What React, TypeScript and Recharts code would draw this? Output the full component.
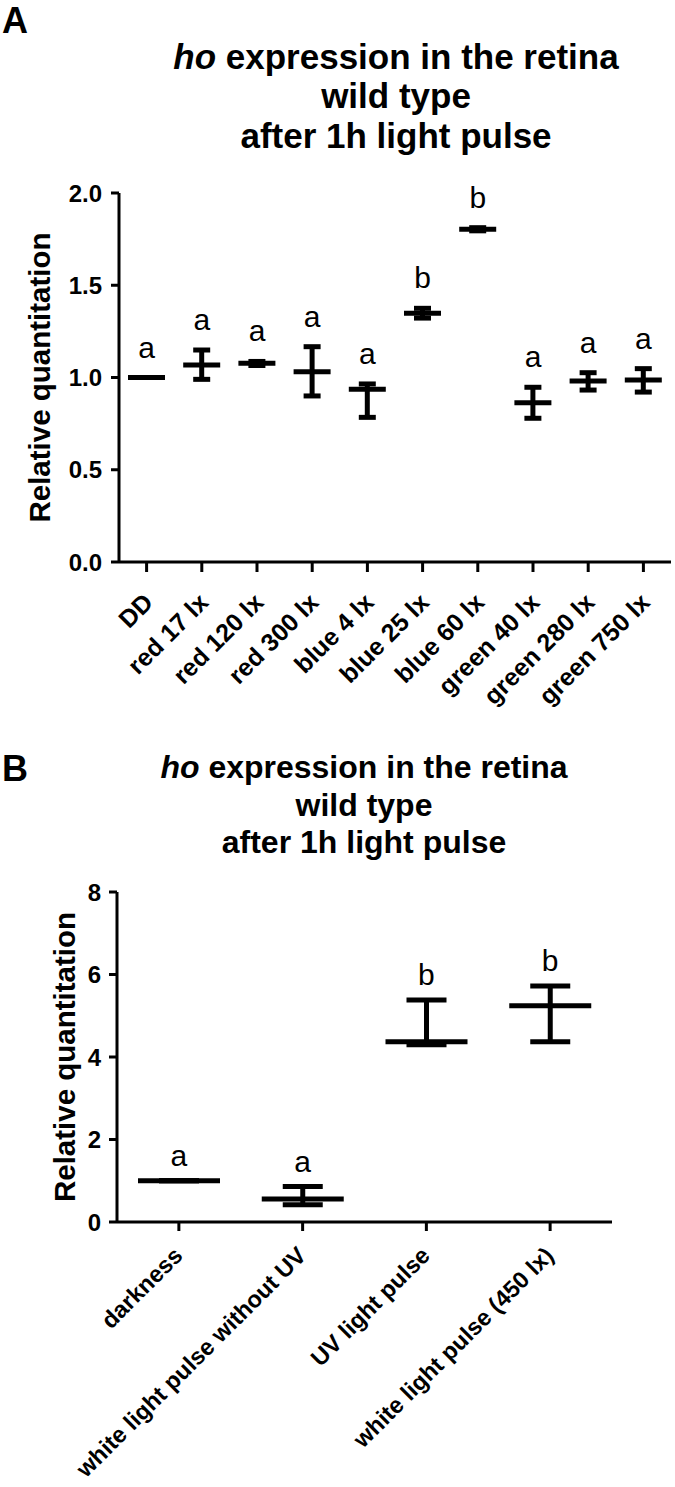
import React from 'react';
import { ComposedChart, Bar, Line, XAxis, YAxis, ErrorBar, LabelList } from 'recharts';

const FONT = '"Liberation Sans", Arial, Helvetica, sans-serif';

// Panel A: colour / intensity series
const groupsA = ['DD', 'red 17 lx', 'red 120 lx', 'red 300 lx', 'blue 4 lx', 'blue 25 lx', 'blue 60 lx', 'green 40 lx', 'green 280 lx', 'green 750 lx'];
const meansA = [1.0, 1.068, 1.077, 1.031, 0.936, 1.348, 1.803, 0.863, 0.981, 0.986];
const upperA = [1.0, 1.149, 1.087, 1.167, 0.965, 1.375, 1.812, 0.947, 1.026, 1.048];
const lowerA = [1.0, 0.99, 1.065, 0.9, 0.784, 1.322, 1.795, 0.779, 0.932, 0.921];
const lettersA = ['a', 'a', 'a', 'a', 'a', 'b', 'b', 'a', 'a', 'a'];
const ticksA = [0, 0.5, 1.0, 1.5, 2.0];

// Panel B: white / UV light
const groupsB = ['darkness', 'white light pulse without UV', 'UV light pulse', 'white light pulse (450 lx)'];
const meansB = [1.0, 0.56, 4.37, 5.24];
const upperB = [1.0, 0.86, 5.38, 5.72];
const lowerB = [1.0, 0.42, 4.3, 4.37];
const lettersB = ['a', 'a', 'b', 'b'];
const ticksB = [0, 2, 4, 6, 8];

const build = (groups: string[], means: number[], upper: number[], lower: number[], letters: string[]) =>
  groups.map((name, i) => ({
    name,
    mean: means[i],
    err: [means[i] - lower[i], upper[i] - means[i]],
    top: upper[i],
    letter: letters[i],
  }));

const dataA = build(groupsA, meansA, upperA, lowerA, lettersA);
const dataB = build(groupsB, meansB, upperB, lowerB, lettersB);

const MeanLine = (props: any) => {
  const { x, y, width } = props;
  return <line x1={x} x2={x + width} y1={y} y2={y} stroke="#000" strokeWidth={5} />;
};

const letterLabel = (gap: number) => (props: any) => {
  const { x, y, value } = props;
  return (
    <text x={x} y={y - gap} textAnchor="middle" fontSize={30} fontFamily={FONT} fill="#000">
      {value}
    </text>
  );
};

const slantTick = (fontSize: number, dx: number, dy: number) => (props: any) => {
  const { x, y, payload } = props;
  return (
    <g transform={`translate(${x + dx},${y + dy})`}>
      <text x={0} y={0} textAnchor="end" transform="rotate(-45)" fontSize={fontSize} fontWeight="bold" fontFamily={FONT} fill="#000">
        {payload.value}
      </text>
    </g>
  );
};

const yLabel = (cx: number) => (props: any) => {
  const vb = props.viewBox || {};
  const cy = vb.y + vb.height / 2;
  return (
    <text transform={`translate(${cx},${cy}) rotate(-90)`} textAnchor="middle" fontSize={29.5} fontWeight="bold" fontFamily={FONT} fill="#000">
      Relative quantitation
    </text>
  );
};

const tickStyle = { fontSize: 24, fontWeight: 'bold', fontFamily: FONT, fill: '#000' } as any;

export default function App() {
  return (
    <div style={{ position: 'absolute', left: 0, top: 0, width: 675, height: 1487, background: '#fff', fontFamily: FONT }}>
      <div style={{ position: 'absolute', left: 0, top: 0 }}>
        <ComposedChart width={675} height={720} data={dataA} margin={{ top: 193, right: 4, bottom: 0, left: 0 }}>
          <XAxis
            dataKey="name"
            interval={0}
            height={158}
            tick={slantTick(25, 8, 30)}
            tickSize={10}
            axisLine={{ stroke: '#000', strokeWidth: 3 }}
            tickLine={{ stroke: '#000', strokeWidth: 3 }}
          />
          <YAxis
            type="number"
            domain={[0, 2]}
            ticks={ticksA}
            width={119}
            tickFormatter={(v: number) => v.toFixed(1)}
            tick={tickStyle}
            tickSize={8}
            tickMargin={9}
            axisLine={{ stroke: '#000', strokeWidth: 3 }}
            tickLine={{ stroke: '#000', strokeWidth: 3 }}
            label={{ content: yLabel(50) }}
          />
          <Bar dataKey="mean" barSize={37} fill="none" shape={MeanLine} isAnimationActive={false}>
            <ErrorBar dataKey="err" width={8.5} stroke="#000" strokeWidth={5} direction="y" />
          </Bar>
          <Line dataKey="top" stroke="none" dot={false} activeDot={false} isAnimationActive={false}>
            <LabelList dataKey="letter" content={letterLabel(20)} />
          </Line>
        </ComposedChart>
      </div>

      <div style={{ position: 'absolute', left: 0, top: 700 }}>
        <ComposedChart width={675} height={787} data={dataB} margin={{ top: 192, right: 63, bottom: 0, left: 0 }}>
          <XAxis
            dataKey="name"
            interval={0}
            height={265}
            tick={slantTick(23.5, 5, 24)}
            tickSize={9}
            axisLine={{ stroke: '#000', strokeWidth: 3 }}
            tickLine={{ stroke: '#000', strokeWidth: 3 }}
          />
          <YAxis
            type="number"
            domain={[0, 8]}
            ticks={ticksB}
            width={117}
            tick={tickStyle}
            tickSize={8}
            tickMargin={8}
            axisLine={{ stroke: '#000', strokeWidth: 3 }}
            tickLine={{ stroke: '#000', strokeWidth: 3 }}
            label={{ content: yLabel(75) }}
          />
          <Bar dataKey="mean" barSize={82} fill="none" shape={MeanLine} isAnimationActive={false}>
            <ErrorBar dataKey="err" width={20} stroke="#000" strokeWidth={5} direction="y" />
          </Bar>
          <Line dataKey="top" stroke="none" dot={false} activeDot={false} isAnimationActive={false}>
            <LabelList dataKey="letter" content={letterLabel(15)} />
          </Line>
        </ComposedChart>
      </div>

      <svg width={675} height={1487} style={{ position: 'absolute', left: 0, top: 0, pointerEvents: 'none' }}>
        <g fontFamily={FONT} fontWeight="bold" fill="#000">
          <text x={2} y={33} fontSize={36}>A</text>
          <text x={396} y={69} fontSize={35} textAnchor="middle">
            <tspan fontStyle="italic">ho</tspan> expression in the retina
          </text>
          <text x={396} y={108} fontSize={35} textAnchor="middle">wild type</text>
          <text x={396} y={148} fontSize={35} textAnchor="middle">after 1h light pulse</text>

          <text x={2} y={781} fontSize={36}>B</text>
          <text x={364} y={778} fontSize={32} textAnchor="middle">
            <tspan fontStyle="italic">ho</tspan> expression in the retina
          </text>
          <text x={364} y={816} fontSize={32} textAnchor="middle">wild type</text>
          <text x={364} y={853} fontSize={32} textAnchor="middle">after 1h light pulse</text>
        </g>
      </svg>
    </div>
  );
}
